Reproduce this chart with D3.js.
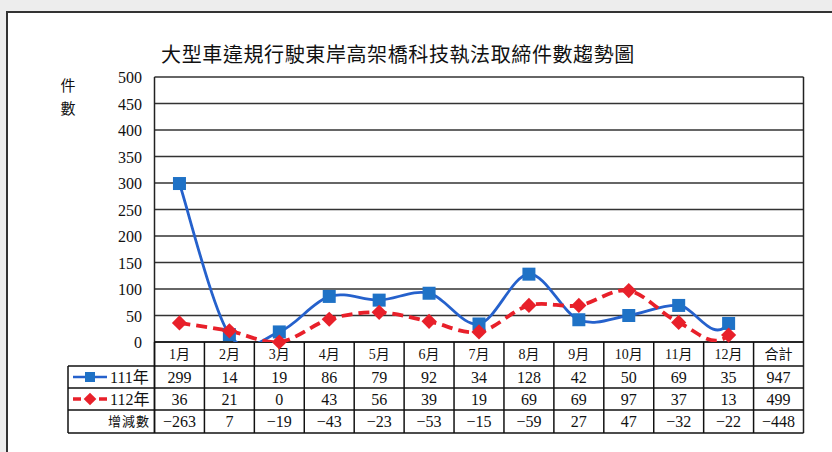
<!DOCTYPE html>
<html><head><meta charset="utf-8">
<script src="https://cdn.jsdelivr.net/npm/d3@7"></script>
<style>body{margin:0;background:#ededed}svg{display:block}</style>
</head><body><svg id="c" width="832" height="452"></svg>
<script>
const title = "大型車違規行駛東岸高架橋科技執法取締件數趨勢圖";
const months = ["1月","2月","3月","4月","5月","6月","7月","8月","9月","10月","11月","12月"];
const totalLabel = "合計";
const seriesNames = ["111年","112年"];
const diffLabel = "增減數";
const series111 = [299,14,19,86,79,92,34,128,42,50,69,35];
const series112 = [36,21,0,43,56,39,19,69,69,97,37,13];
const diffs = [-263,7,-19,-43,-23,-53,-15,-59,27,47,-32,-22];
const totals = [947,499,-448];
const yTicks = [0,50,100,150,200,250,300,350,400,450,500];
const yLabel = ["件","數"];

(function(){
const svg = d3.select("#c");
const W = 832, H = 452;
const pL = 154.5, pR = 803.5, pT = 77, pB = 342;
const rowY = [342, 366, 388, 410, 433];
const legendLeft = 68;
const numFont = "'Liberation Serif','Noto Sans CJK TC',serif";
const cjkFont = "'Noto Sans CJK TC','Noto Sans CJK SC',sans-serif";
const blue = "#2561cc", blueFill = "#1f72c6", red = "#e8202a";

// frame
svg.append("rect").attr("x",0).attr("y",0).attr("width",W).attr("height",H).attr("fill","#ededed");
svg.append("rect").attr("x",7).attr("y",12).attr("width",W).attr("height",H).attr("fill","#fff")
  .attr("stroke","#333").attr("stroke-width",2);

// title
svg.append("text").attr("x",398).attr("y",62).attr("text-anchor","middle")
  .attr("font-family",cjkFont).attr("font-size",20).attr("letter-spacing",0.6).attr("fill","#111").text(title);

const cols = months.concat([totalLabel]);
const x = d3.scaleBand().domain(cols).range([pL,pR]);
const y = d3.scaleLinear().domain([0,500]).range([pB,pT]);

// gridlines
const g = svg.append("g");
g.selectAll("line.grid").data(yTicks).join("line")
  .attr("x1",pL).attr("x2",pR).attr("y1",d=>y(d)).attr("y2",d=>y(d))
  .attr("stroke","#333").attr("stroke-width",1.3);
g.append("line").attr("x1",pL).attr("x2",pL).attr("y1",pT).attr("y2",rowY[4]).attr("stroke","#222").attr("stroke-width",1.5);
g.append("line").attr("x1",pR).attr("x2",pR).attr("y1",pT).attr("y2",rowY[4]).attr("stroke","#222").attr("stroke-width",1.5);

// y axis
const yAxis = d3.axisLeft(y).tickValues(yTicks).tickSize(0).tickPadding(0);
const ya = svg.append("g").attr("transform","translate(142,0)").call(yAxis);
ya.select(".domain").remove();
ya.selectAll("text").attr("font-family",numFont).attr("font-size",16).attr("fill","#111").attr("dy","0.35em");
yLabel.forEach((t,i)=>svg.append("text").attr("x",68).attr("y",91+i*23).attr("text-anchor","middle")
  .attr("font-family",cjkFont).attr("font-size",15).attr("fill","#111").text(t));

// table lines
const tl = svg.append("g").attr("stroke","#111").attr("stroke-width",1.5);
rowY.forEach((ry,i)=>tl.append("line").attr("x1",i<1?pL:legendLeft).attr("x2",pR).attr("y1",ry).attr("y2",ry));
cols.forEach(c=>tl.append("line").attr("x1",x(c)).attr("x2",x(c)).attr("y1",rowY[0]).attr("y2",rowY[4]));
tl.append("line").attr("x1",legendLeft).attr("x2",legendLeft).attr("y1",rowY[1]).attr("y2",rowY[4]);

// table text
const cx = c=>x(c)+x.bandwidth()/2;
const rowMid = i=>(rowY[i]+rowY[i+1])/2;
const fmt = d3.format("d");
svg.append("g").selectAll("text").data(cols).join("text")
  .attr("x",cx).attr("y",rowMid(0)).attr("dy","0.35em").attr("text-anchor","middle")
  .attr("font-family",numFont).attr("font-size",14).attr("fill","#111").text(d=>d);
const rows = [series111.concat([totals[0]]), series112.concat([totals[1]]), diffs.concat([totals[2]])];
rows.forEach((r,ri)=>{
  svg.append("g").selectAll("text").data(r).join("text")
    .attr("x",(d,i)=>cx(cols[i])).attr("y",rowMid(ri+1)).attr("dy","0.35em").attr("text-anchor","middle")
    .attr("font-family",numFont).attr("font-size",16).attr("fill","#111").text(d=>fmt(d));
});

// legend in table
[0,1].forEach(i=>{
  const ly = rowMid(i+1);
  svg.append("line").attr("x1",73).attr("x2",107).attr("y1",ly).attr("y2",ly)
    .attr("stroke",i?red:blue).attr("stroke-width",i?3.5:2.5).attr("stroke-dasharray",i?"8,5":null);
  if(i) svg.append("path").attr("d",d3.symbol(d3.symbolSquare,80)()).attr("transform",`translate(90,${ly}) rotate(45)`).attr("fill",red);
  else svg.append("rect").attr("x",85).attr("y",ly-5).attr("width",10).attr("height",10).attr("fill",blueFill);
  svg.append("text").attr("x",110).attr("y",ly).attr("dy","0.35em").attr("font-family",numFont).attr("font-size",16).attr("fill","#111").text(seriesNames[i]);
});
svg.append("text").attr("x",150).attr("y",rowMid(3)).attr("dy","0.35em").attr("text-anchor","end")
  .attr("font-family",cjkFont).attr("font-size",13).attr("letter-spacing",1).attr("fill","#111").text(diffLabel);

// smoothed line (spreadsheet-style Bezier smoothing)
function smoothPath(vals){
  const pts = vals.map((v,i)=>[cx(months[i]), y(v)]);
  const n = pts.length, p = d3.path();
  p.moveTo(pts[0][0], pts[0][1]);
  for(let i=0;i<n-1;i++){
    const p0 = pts[Math.max(i-1,0)], p1 = pts[i], p2 = pts[i+1], p3 = pts[Math.min(i+2,n-1)];
    const c1 = [p1[0]+(p2[0]-p0[0])/6, p1[1]+(p2[1]-p0[1])/6];
    let c2 = [p2[0]-(p3[0]-p1[0])/6, p2[1]-(p3[1]-p1[1])/6];
    if(i===n-2){ const dx=p2[0]-p1[0]; c2=[p2[0]-dx/3, p2[1]+1.2*(p2[1]-p1[1])]; }
    p.bezierCurveTo(c1[0],c1[1],c2[0],c2[1],p2[0],p2[1]);
  }
  return p.toString();
}

svg.append("clipPath").attr("id","clip").append("rect").attr("x",pL).attr("y",pT).attr("width",pR-pL).attr("height",pB-pT);
svg.append("path").attr("d",smoothPath(series111)).attr("fill","none").attr("stroke",blue).attr("stroke-width",2.8).attr("clip-path","url(#clip)");
svg.append("path").attr("d",smoothPath(series112)).attr("fill","none").attr("stroke",red).attr("stroke-width",3.8).attr("stroke-dasharray","11,6").attr("clip-path","url(#clip)");

svg.append("g").selectAll("rect").data(series111).join("rect")
  .attr("x",(d,i)=>cx(months[i])-6.5).attr("y",d=>y(d)-6.5).attr("width",13).attr("height",13).attr("fill",blueFill);
svg.append("g").selectAll("path").data(series112).join("path")
  .attr("d",d3.symbol(d3.symbolSquare,115)())
  .attr("transform",(d,i)=>`translate(${cx(months[i])},${y(d)}) rotate(45)`).attr("fill",red);
})();
</script></body></html>
